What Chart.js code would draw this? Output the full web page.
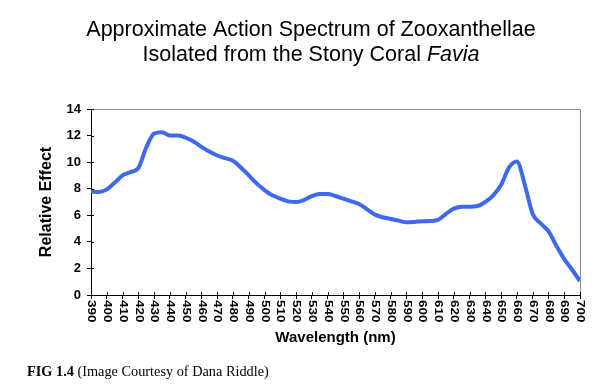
<!DOCTYPE html>
<html lang="en">
<head>
    <meta charset="UTF-8">
    <title>Action Spectrum of Zooxanthellae</title>
    <script src="https://cdn.jsdelivr.net/npm/chart.js"></script>
    <style>
        body { margin: 0; background: #fff; }
        #wrap { position: relative; width: 599px; height: 386px; }
        #caption {
            position: absolute; left: 27px; top: 363px;
            font-family: "Liberation Serif", "Times New Roman", serif;
            font-size: 14.3px; color: #000; white-space: nowrap;
        }
    </style>
</head>
<body>
    <div id="wrap">
        <canvas id="spectrum"></canvas>
        <div id="caption"><b>FIG 1.4</b> (Image Courtesy of Dana Riddle)</div>
    </div>

    <script>
        // wavelength (nm) and relative effect
        const wavelengths = [390, 395, 400, 405, 410, 415, 420, 425, 430, 435, 440, 445, 450, 455, 460,
            465, 470, 475, 480, 485, 490, 495, 500, 505, 510, 515, 520, 525, 530, 535, 540, 545, 550,
            555, 560, 565, 570, 575, 580, 585, 590, 595, 600, 605, 610, 615, 620, 625, 630, 635, 640,
            645, 650, 655, 660, 665, 670, 675, 680, 685, 690, 695, 700];
        const relativeEffect = [7.8, 7.75, 7.95, 8.45, 9.0, 9.25, 9.55, 11.1, 12.15, 12.25, 12.0, 12.0,
            11.85, 11.55, 11.15, 10.8, 10.5, 10.3, 10.1, 9.6, 9.0, 8.4, 7.9, 7.5, 7.25, 7.05, 7.0, 7.15,
            7.45, 7.6, 7.6, 7.45, 7.25, 7.05, 6.85, 6.45, 6.05, 5.85, 5.72, 5.6, 5.47, 5.5, 5.55, 5.57,
            5.65, 6.1, 6.5, 6.65, 6.65, 6.7, 7.0, 7.5, 8.3, 9.6, 10.05, 8.3, 6.1, 5.4, 4.8, 3.7, 2.7,
            1.9, 1.05];

        const xTicks = [390, 400, 410, 420, 430, 440, 450, 460, 470, 480, 490, 500, 510, 520, 530, 540,
            550, 560, 570, 580, 590, 600, 610, 620, 630, 640, 650, 660, 670, 680, 690, 700];
        const yTicks = [0, 2, 4, 6, 8, 10, 12, 14];

        const titleLine1 = 'Approximate Action Spectrum of Zooxanthellae';
        const titleLine2 = ['Isolated from the Stony Coral ', 'Favia'];

        // title (with italic genus), plot box, rotated x labels, inner tick halves
        const decorations = {
            id: 'decorations',
            afterDraw(chart) {
                const ctx = chart.ctx;
                const area = chart.chartArea;
                const xs = chart.scales.x;
                const ys = chart.scales.y;
                ctx.save();

                // title
                const tf = '21.5px "Liberation Sans", Arial, sans-serif';
                const tfi = 'italic ' + tf;
                ctx.fillStyle = '#000';
                ctx.textBaseline = 'middle';
                ctx.textAlign = 'left';
                const cx = 311;
                ctx.font = tf;
                const w = ctx.measureText(titleLine1).width;
                ctx.fillText(titleLine1, cx - w / 2, 30);
                const w1 = ctx.measureText(titleLine2[0]).width;
                ctx.font = tfi;
                const w2 = ctx.measureText(titleLine2[1]).width;
                ctx.font = tf;
                ctx.fillText(titleLine2[0], cx - (w1 + w2) / 2, 55);
                ctx.font = tfi;
                ctx.fillText(titleLine2[1], cx - (w1 + w2) / 2 + w1, 55);

                // grey top/right frame
                ctx.strokeStyle = '#8c8c8c';
                ctx.lineWidth = 1;
                ctx.beginPath();
                ctx.moveTo(area.left, area.top + 0.5);
                ctx.lineTo(area.right + 0.5, area.top + 0.5);
                ctx.lineTo(area.right + 0.5, area.bottom);
                ctx.stroke();

                // inner half of the tick marks
                ctx.strokeStyle = '#000';
                ctx.beginPath();
                xs.ticks.forEach(t => {
                    const px = Math.round(xs.getPixelForValue(t.value)) + 0.5;
                    ctx.moveTo(px, area.bottom);
                    ctx.lineTo(px, area.bottom - 3);
                });
                ys.ticks.forEach(t => {
                    const py = Math.round(ys.getPixelForValue(t.value)) + 0.5;
                    ctx.moveTo(area.left, py);
                    ctx.lineTo(area.left + 3, py);
                });
                ctx.stroke();

                // x tick labels, turned clockwise
                ctx.font = 'bold 12px "Liberation Sans", Arial, sans-serif';
                ctx.textAlign = 'left';
                ctx.textBaseline = 'middle';
                xs.ticks.forEach(t => {
                    const px = xs.getPixelForValue(t.value);
                    ctx.save();
                    ctx.translate(px, area.bottom + 5);
                    ctx.rotate(Math.PI / 2);
                    ctx.scale(1.12, 0.85);
                    ctx.fillText(String(t.value), 0, 0);
                    ctx.restore();
                });
                ctx.restore();
            }
        };

        const ctx = document.getElementById('spectrum').getContext('2d');
        new Chart(ctx, {
            type: 'line',
            data: {
                datasets: [{
                    data: wavelengths.map((wl, i) => ({ x: wl, y: relativeEffect[i] })),
                    borderColor: '#3d68f0',
                    borderWidth: 4,
                    pointRadius: 0,
                    cubicInterpolationMode: 'monotone',
                    fill: false
                }]
            },
            options: {
                responsive: true,
                maintainAspectRatio: false,
                animation: false,
                layout: { padding: { top: 109, right: 19, left: 0, bottom: 0 } },
                plugins: {
                    legend: { display: false },
                    tooltip: { enabled: false }
                },
                scales: {
                    x: {
                        type: 'linear',
                        min: 390,
                        max: 700,
                        afterBuildTicks: scale => { scale.ticks = xTicks.map(v => ({ value: v })); },
                        afterFit: scale => { scale.height = 91; },
                        ticks: { display: false },
                        grid: { drawOnChartArea: false, drawTicks: true, tickLength: 4, color: '#000' },
                        border: { color: '#000', width: 1 },
                        title: {
                            display: true,
                            text: 'Wavelength (nm)',
                            color: '#000',
                            font: { family: '"Liberation Sans", Arial, sans-serif', size: 15, weight: 'bold' },
                            padding: { top: 0, bottom: 39 }
                        }
                    },
                    y: {
                        min: 0,
                        max: 14,
                        afterBuildTicks: scale => { scale.ticks = yTicks.map(v => ({ value: v })); },
                        afterFit: scale => { scale.width = 91; },
                        ticks: {
                            color: '#000',
                            padding: 6,
                            font: { family: '"Liberation Sans", Arial, sans-serif', size: 13, weight: 'bold' }
                        },
                        grid: { drawOnChartArea: false, drawTicks: true, tickLength: 4, color: '#000' },
                        border: { color: '#000', width: 1 },
                        title: {
                            display: true,
                            text: 'Relative Effect',
                            color: '#000',
                            font: { family: '"Liberation Sans", Arial, sans-serif', size: 16, weight: 'bold' },
                            padding: { top: 37, bottom: 0 }
                        }
                    }
                }
            },
            plugins: [decorations]
        });
    </script>
</body>
</html>
